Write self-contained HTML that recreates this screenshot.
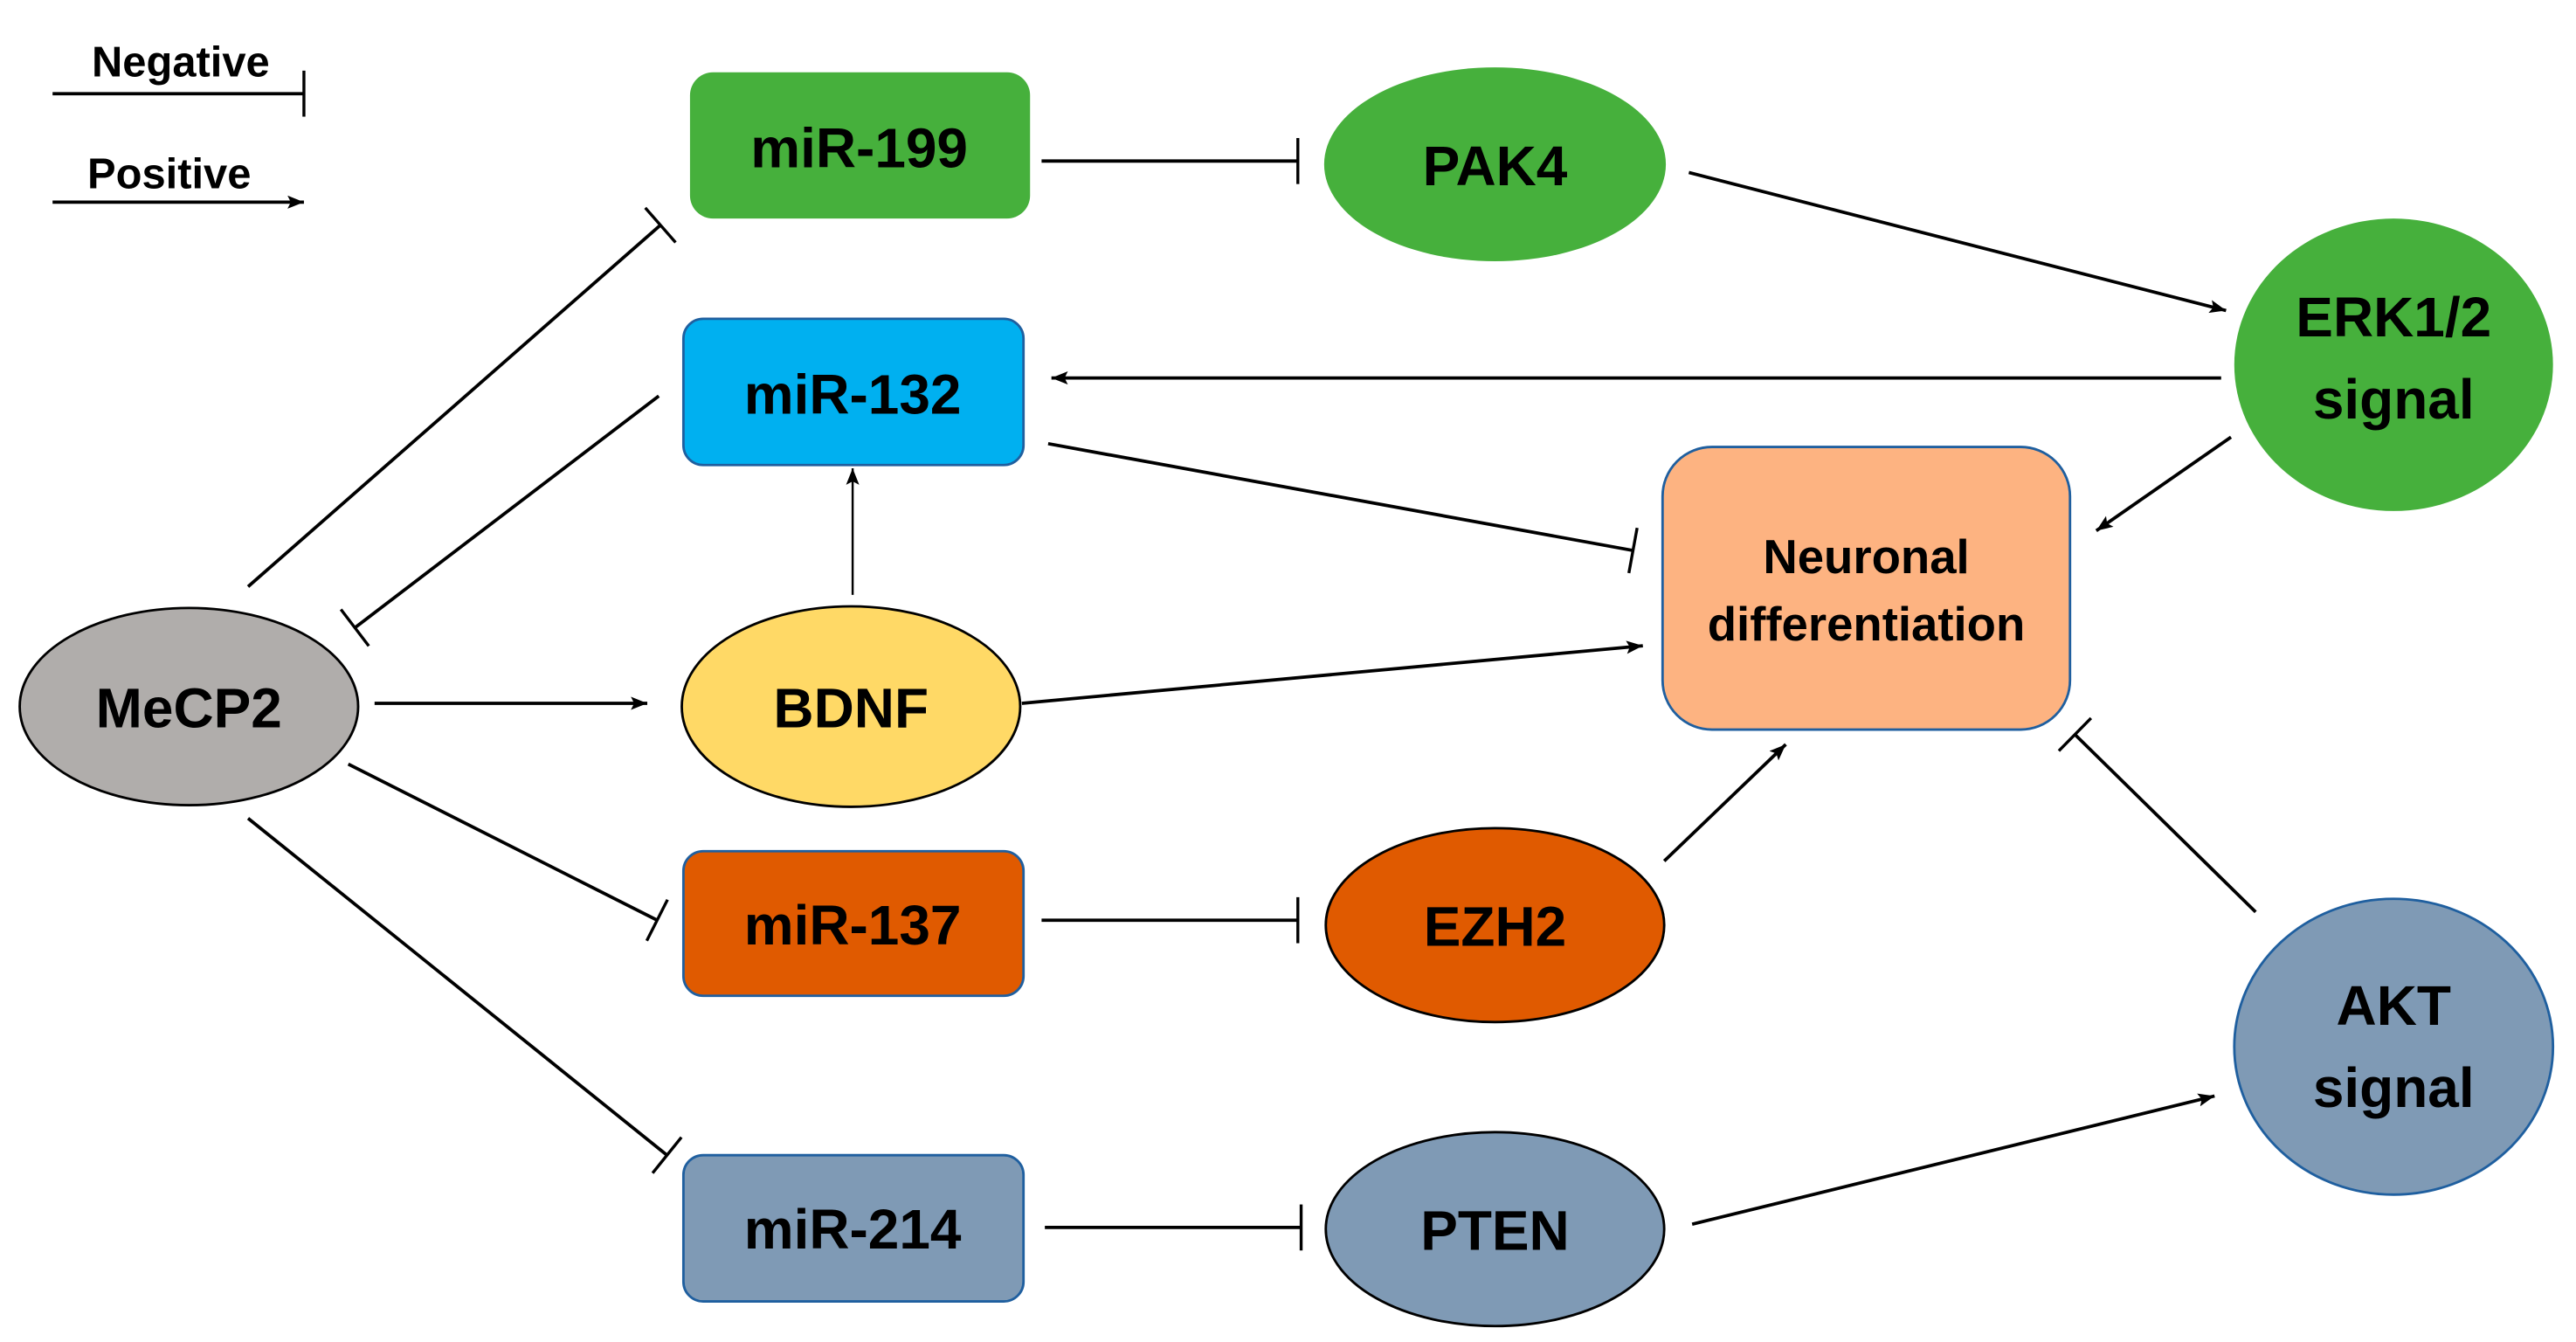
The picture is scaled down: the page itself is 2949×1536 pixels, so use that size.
<!DOCTYPE html>
<html><head><meta charset="utf-8"><style>
html,body{margin:0;padding:0;background:#fff;}
svg{display:block;}
text{font-family:"Liberation Sans",sans-serif;font-weight:bold;fill:#000;text-anchor:middle;dominant-baseline:central;}
</style></head><body>
<svg width="2949" height="1536" viewBox="0 0 1568 816.7" preserveAspectRatio="none" xmlns="http://www.w3.org/2000/svg">
<defs>
<marker id="ar" markerUnits="userSpaceOnUse" markerWidth="12" markerHeight="10" refX="10" refY="4" orient="auto">
<path d="M0,0 L10,4 L0,8 L2,4 Z" fill="#000"/></marker>
<marker id="bar" markerUnits="userSpaceOnUse" markerWidth="4" markerHeight="30" refX="2" refY="15" orient="auto">
<path d="M2,1 L2,29" stroke="#000" stroke-width="1.8"/></marker>
</defs>
<g stroke="#000" stroke-width="2" fill="none">
<!-- legend -->
<line x1="32" y1="57" x2="185" y2="57" marker-end="url(#bar)"/>
<line x1="32" y1="123" x2="185" y2="123" marker-end="url(#ar)"/>
<!-- edges -->
<line x1="634" y1="98" x2="790" y2="98" marker-end="url(#bar)"/>
<line x1="1028" y1="105" x2="1355" y2="189" marker-end="url(#ar)"/>
<line x1="1352" y1="230" x2="640" y2="230" marker-end="url(#ar)"/>
<line x1="1358" y1="266" x2="1276" y2="323" marker-end="url(#ar)"/>
<line x1="638" y1="270" x2="994" y2="335" marker-end="url(#bar)"/>
<line x1="622" y1="428" x2="1000" y2="393" marker-end="url(#ar)"/>
<line x1="519" y1="362" x2="519" y2="285" stroke-width="1.3" marker-end="url(#ar)"/>
<line x1="228" y1="428" x2="394" y2="428" marker-end="url(#ar)"/>
<line x1="151" y1="357" x2="402" y2="137" marker-end="url(#bar)"/>
<line x1="401" y1="241" x2="216" y2="382" marker-end="url(#bar)"/>
<line x1="212" y1="465" x2="400" y2="560" marker-end="url(#bar)"/>
<line x1="151" y1="498" x2="406" y2="703" marker-end="url(#bar)"/>
<line x1="634" y1="560" x2="790" y2="560" marker-end="url(#bar)"/>
<line x1="636" y1="747" x2="792" y2="747" marker-end="url(#bar)"/>
<line x1="1013" y1="524" x2="1087" y2="453" marker-end="url(#ar)"/>
<line x1="1373" y1="555" x2="1263" y2="447" marker-end="url(#bar)"/>
<line x1="1030" y1="745" x2="1348" y2="667" marker-end="url(#ar)"/>
</g>
<!-- nodes -->
<rect x="420" y="44" width="207" height="89" rx="14" fill="#46b03c"/>
<rect x="416" y="194" width="207" height="89" rx="12" fill="#00b0f0" stroke="#1f5f9f" stroke-width="1.5"/>
<rect x="416" y="518" width="207" height="88" rx="12" fill="#e05a00" stroke="#1f5f9f" stroke-width="1.5"/>
<rect x="416" y="703" width="207" height="89" rx="12" fill="#7f9ab5" stroke="#1f5f9f" stroke-width="1.5"/>
<rect x="1012" y="272" width="248" height="172" rx="30" fill="#fdb381" stroke="#1f5f9f" stroke-width="1.5"/>
<ellipse cx="115" cy="430" rx="103" ry="60" fill="#b0adab" stroke="#000" stroke-width="1.5"/>
<ellipse cx="518" cy="430" rx="103" ry="61" fill="#ffd966" stroke="#000" stroke-width="1.5"/>
<ellipse cx="910" cy="100" rx="104" ry="59" fill="#46b03c"/>
<ellipse cx="910" cy="563" rx="103" ry="59" fill="#e05a00" stroke="#000" stroke-width="1.5"/>
<ellipse cx="910" cy="748" rx="103" ry="59" fill="#7f9ab5" stroke="#000" stroke-width="1.5"/>
<ellipse cx="1457" cy="222" rx="97" ry="89" fill="#46b03c"/>
<ellipse cx="1457" cy="637" rx="97" ry="90" fill="#7f9ab5" stroke="#1f5f9f" stroke-width="1.5"/>
<!-- labels -->
<text x="110" y="38" font-size="26">Negative</text>
<text x="103" y="106" font-size="26">Positive</text>
<text x="523" y="90" font-size="34">miR-199</text>
<text x="519" y="240" font-size="34">miR-132</text>
<text x="519" y="563" font-size="34">miR-137</text>
<text x="519" y="748" font-size="34">miR-214</text>
<text x="115" y="431" font-size="34">MeCP2</text>
<text x="518" y="431" font-size="34">BDNF</text>
<text x="910" y="101" font-size="34">PAK4</text>
<text x="910" y="564" font-size="34">EZH2</text>
<text x="910" y="749" font-size="34">PTEN</text>
<text x="1457" y="193" font-size="34">ERK1/2</text>
<text x="1457" y="243" font-size="34">signal</text>
<text x="1457" y="612" font-size="34">AKT</text>
<text x="1457" y="662" font-size="34">signal</text>
<text x="1136" y="339" font-size="29">Neuronal</text>
<text x="1136" y="380" font-size="29">differentiation</text>
</svg>
</body></html>
